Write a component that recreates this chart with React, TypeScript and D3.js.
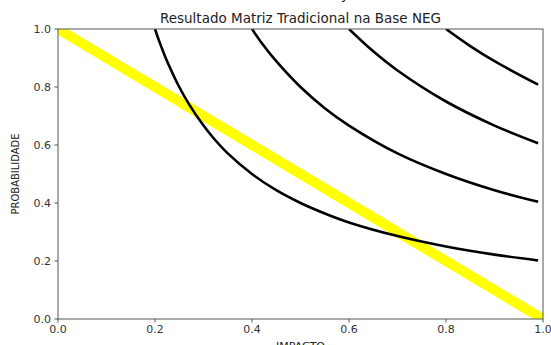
import React from 'react'
import * as d3 from 'd3'

// values
const xTicks = [0, 0.2, 0.4, 0.6, 0.8, 1.0]
const yTicks = [0, 0.2, 0.4, 0.6, 0.8, 1.0]

const limitLine = [
  [0, 1],
  [1, 0]
]

const curve02 = [
  [0.2, 1.0], [0.21, 0.952], [0.22, 0.909], [0.23, 0.87], [0.25, 0.8], [0.27, 0.741],
  [0.3, 0.667], [0.32, 0.625], [0.35, 0.571], [0.4, 0.5], [0.45, 0.444], [0.5, 0.4],
  [0.55, 0.364], [0.6, 0.333], [0.7, 0.286], [0.8, 0.25], [0.9, 0.222], [0.99, 0.202]
]
const curve04 = [
  [0.4, 1.0], [0.42, 0.952], [0.45, 0.889], [0.5, 0.8], [0.55, 0.727], [0.6, 0.667],
  [0.7, 0.571], [0.8, 0.5], [0.9, 0.444], [0.99, 0.404]
]
const curve06 = [
  [0.6, 1.0], [0.65, 0.923], [0.7, 0.857], [0.8, 0.75], [0.9, 0.667], [0.99, 0.606]
]
const curve08 = [
  [0.8, 1.0], [0.85, 0.941], [0.9, 0.889], [0.99, 0.808]
]
const curves = [curve02, curve04, curve06, curve08]

const W = 551
const H = 345
const left = 58
const right = 543
const top = 29
const bottom = 319

export default function App() {
  const x = d3.scaleLinear().domain([0, 1]).range([left, right])
  const y = d3.scaleLinear().domain([0, 1]).range([bottom, top])
  const line = d3
    .line<number[]>()
    .x(d => x(d[0]))
    .y(d => y(d[1]))
  const smooth = d3
    .line<number[]>()
    .x(d => x(d[0]))
    .y(d => y(d[1]))
    .curve(d3.curveCatmullRom.alpha(0.5))

  const tickColor = '#333'
  const font = 'DejaVu Sans, sans-serif'

  return (
    <svg
      width={W}
      height={H}
      style={{ position: 'absolute', left: 0, top: 0, background: '#fff' }}
    >
      <defs>
        <clipPath id="plot">
          <rect x={left} y={top} width={right - left} height={bottom - top} />
        </clipPath>
      </defs>

      <g clipPath="url(#plot)">
        <path d={line(limitLine) || ''} stroke="#ffff00" strokeWidth={10} fill="none" />
        {curves.map((c, i) => (
          <path key={i} d={smooth(c) || ''} stroke="#000" strokeWidth={2.6} fill="none" />
        ))}
      </g>

      <rect
        x={left}
        y={top}
        width={right - left}
        height={bottom - top}
        fill="none"
        stroke="#555"
        strokeWidth={1}
      />

      {xTicks.map(t => (
        <g key={'x' + t}>
          <line x1={x(t)} x2={x(t)} y1={bottom} y2={bottom + 3.5} stroke="#555" />
          <text
            x={x(t)}
            y={333}
            textAnchor="middle"
            fontSize={11}
            fontFamily={font}
            fill={tickColor}
          >
            {t.toFixed(1)}
          </text>
        </g>
      ))}
      {yTicks.map(t => (
        <g key={'y' + t}>
          <line x1={left - 3.5} x2={left} y1={y(t)} y2={y(t)} stroke="#555" />
          <text
            x={51}
            y={y(t) + 4}
            textAnchor="end"
            fontSize={11}
            fontFamily={font}
            fill={tickColor}
          >
            {t.toFixed(1)}
          </text>
        </g>
      ))}

      <text x={341} y={-1} fontSize={13} fontFamily={font} fill="#000">
        y
      </text>
      <text
        x={(left + right) / 2}
        y={23}
        textAnchor="middle"
        fontSize={13.5}
        fontFamily={font}
        fill="#222"
      >
        Resultado Matriz Tradicional na Base NEG
      </text>
      <text
        x={(left + right) / 2}
        y={350}
        textAnchor="middle"
        fontSize={11}
        fontFamily={font}
        fill="#222"
      >
        IMPACTO
      </text>
      <text
        transform={`translate(19,${(top + bottom) / 2}) rotate(-90)`}
        textAnchor="middle"
        fontSize={11}
        fontFamily="Liberation Sans Narrow, DejaVu Sans Condensed, sans-serif"
        textLength={81}
        lengthAdjust="spacingAndGlyphs"
        fill="#222"
      >
        PROBABILIDADE
      </text>
    </svg>
  )
}
